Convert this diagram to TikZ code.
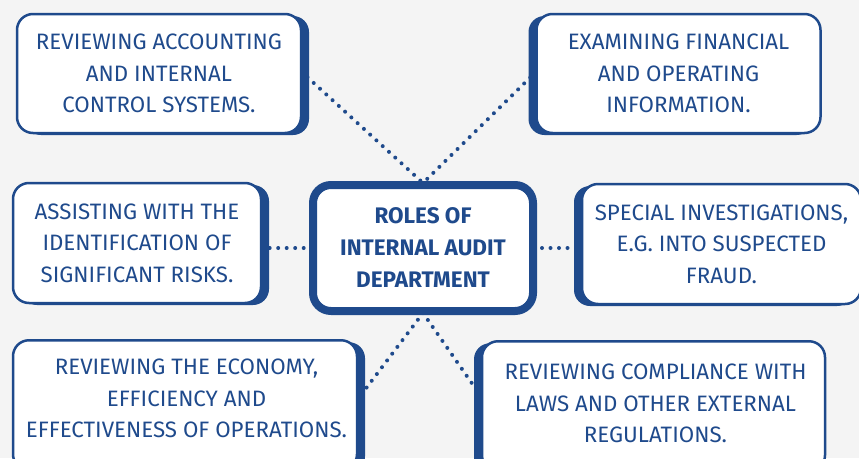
\documentclass[tikz,border=0pt]{standalone}
\usepackage{fontspec}
\setmainfont{Fira Sans}
\usetikzlibrary{shadows}
\definecolor{navy}{HTML}{1F4A8C}
\definecolor{bgc}{HTML}{F4F4F4}
\tikzset{
  card/.style={draw=navy, line width=2.5pt, fill=white, rounded corners=16pt,
    text=navy, align=center, inner sep=0pt,
    font=\fontsize{22.3}{31.5}\selectfont},
  cardtext/.style={text=navy, align=center, inner sep=0pt,
    font=\fontsize{22.3}{31.5}\selectfont},
  shadowR/.style={general shadow={fill=navy, shadow xshift=8pt, shadow yshift=-2pt}},
  shadowL/.style={general shadow={fill=navy, shadow xshift=-8pt, shadow yshift=-2pt}},
  hub/.style={draw=navy, line width=8pt, fill=white, rounded corners=18pt,
    text=navy, align=center, inner sep=0pt,
    font=\bfseries\fontsize{22.5}{32}\selectfont},
  dots/.style={navy, line width=4pt, line cap=round, dash pattern=on 0pt off 8.5pt}
}
\begin{document}
\begin{tikzpicture}[x=1pt,y=-1pt]
\fill[bgc] (0,0) rectangle (859,458);
\useasboundingbox (0,0) rectangle (859,458);
\clip (0,0) rectangle (859,458);

% placeholders for connector ends
\coordinate (cN) at (423,183);
\coordinate (cS) at (423,313);
\node[minimum width=220pt, minimum height=126pt] (cph) at (423,248) {};
\node[minimum width=284pt, minimum height=119pt] (tlph) at (159,73.5) {};
\node[minimum width=284pt, minimum height=119pt] (trph) at (678.5,73.5) {};
\node[minimum width=248pt, minimum height=120pt] (mlph) at (137,243) {};
\node[minimum width=279pt, minimum height=120pt] (mrph) at (721.5,244) {};
\node[minimum width=344pt, minimum height=130pt] (blph) at (185,404) {};
\node[minimum width=343pt, minimum height=129pt] (brph) at (653.5,404.5) {};

\draw[dots] ([yshift=2pt]tlph.east) -- (cN);
\draw[dots] ([yshift=2pt]trph.west) -- (cN);
\draw[dots] (mlph.east |- cph.center) -- (cph.center);
\draw[dots] (cph.center) -- (mrph.west |- cph.center);
\draw[dots] (cS) -- ([yshift=4pt]blph.east);
\draw[dots] (cS) -- ([yshift=7pt]brph.west);

% boxes
\node[card, shadowR, minimum width=284pt, minimum height=119pt] (tl) at (159,73.5)
  {REVIEWING ACCOUNTING\\AND INTERNAL\\CONTROL SYSTEMS.};
\node[card, shadowL, minimum width=284pt, minimum height=119pt] (tr) at (678.5,73.5)
  {EXAMINING FINANCIAL\\AND OPERATING\\INFORMATION.};
\node[card, shadowR, minimum width=248pt, minimum height=120pt] (ml) at (137,243)
  {ASSISTING WITH THE\\IDENTIFICATION OF\\SIGNIFICANT RISKS.};
\node[card, shadowL, minimum width=279pt, minimum height=120pt] (mr) at (721.5,244)
  {SPECIAL INVESTIGATIONS,\\E.G. INTO SUSPECTED\\FRAUD.};
\node[card, shadowR, minimum width=344pt, minimum height=130pt, anchor=north] (bl) at (185,339) {};
\node[card, shadowL, minimum width=343pt, minimum height=130pt, anchor=north] (br) at (653.5,340) {};
\node[cardtext] (bltxt) at (186.5,398.5)
  {REVIEWING THE ECONOMY,\\EFFICIENCY AND\\EFFECTIVENESS OF OPERATIONS.};
\node[cardtext] (brtxt) at (655.5,403.5)
  {REVIEWING COMPLIANCE WITH\\LAWS AND OTHER EXTERNAL\\REGULATIONS.};
\node[hub, minimum width=220pt, minimum height=126pt] (c) at (423,248)
  {ROLES OF\\INTERNAL AUDIT\\DEPARTMENT};
\end{tikzpicture}
\end{document}
